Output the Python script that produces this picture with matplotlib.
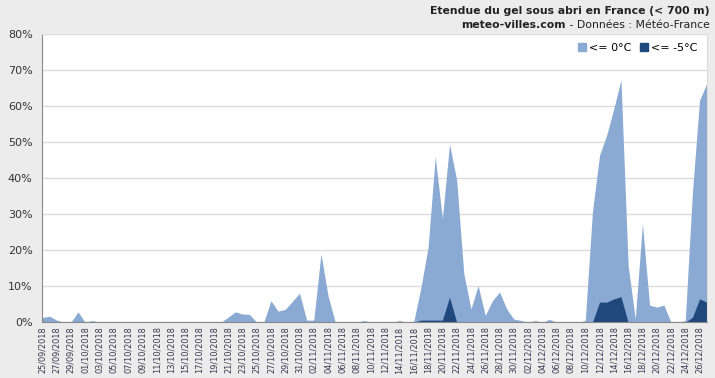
import matplotlib
matplotlib.use("Agg")
import matplotlib.pyplot as plt
import pandas as pd
from matplotlib.patches import Patch
from matplotlib.ticker import MultipleLocator, FuncFormatter

# jours du 25/09/2018 au 27/12/2018
jours = pd.date_range("2018-09-25", "2018-12-27", freq="D")
labels_jours = [d.strftime("%d/%m/%Y") for d in jours]

# % du territoire (< 700 m) avec gel sous abri <= 0°C
gel_0 = [1.3, 1.7, 0.6, 0, 0, 2.9, 0, 0.5, 0, 0,
         0, 0, 0, 0, 0, 0, 0, 0, 0, 0,
         0, 0, 0, 0, 0, 0, 1.4, 2.9, 2.3, 2.2,
         0, 0, 6.0, 3.1, 3.6, 5.8, 8.1, 0.6, 0.6, 19.0,
         7.3, 0, 0, 0, 0, 0.5, 0, 0, 0, 0,
         0.5, 0, 0.3, 9.7, 20.9, 46.0, 28.8, 49.5, 39.5, 13.5,
         3.7, 10.2, 1.9, 6.0, 8.4, 3.7, 0.9, 0.5, 0, 0.5,
         0, 0.8, 0, 0, 0, 0, 0.5, 30.6, 46.4, 52.0,
         59.4, 67.3, 15.8, 0.9, 27.4, 4.8, 4.2, 4.8, 0, 0,
         0.5, 36.0, 61.7, 66.3]

# % avec gel <= -5°C
gel_5 = [0] * 53 + [0.6, 0.6, 0.6, 0.6, 7.0] + [0] * 20 + \
        [5.6, 5.6, 6.5, 7.1] + [0] * 9 + [1.4, 6.5, 5.6]

x = list(range(len(jours)))

fig = plt.figure(figsize=(7.15, 3.78), dpi=100, facecolor="#ececec")
ax = fig.add_axes([0.0592, 0.1474, 0.9292, 0.7619])
ax.set_facecolor("white")

ax.fill_between(x, 0, gel_0, color="#8aaad4", lw=0)
ax.fill_between(x, 0, gel_5, color="#1f497d", lw=0)

ax.set_xlim(0, len(jours) - 1)
ax.set_ylim(0, 80)
ax.yaxis.set_major_locator(MultipleLocator(10))
ax.yaxis.set_major_formatter(FuncFormatter(lambda v, p: "%d%%" % v))
ax.yaxis.grid(True, color="#dcdcdc", lw=1)
ax.set_axisbelow(True)
ax.tick_params(axis="y", length=0, labelsize=8, labelcolor="#333333", pad=7)

ax.set_xticks(x[::2])
ax.set_xticklabels(labels_jours[::2], rotation=90, fontsize=5.9, color="#3a3550")
ax.tick_params(axis="x", length=0, pad=3)

for s in ["top", "right"]:
    ax.spines[s].set_color("#dcdcdc")
ax.spines["left"].set_color("#888888")
ax.spines["bottom"].set_color("#888888")

leg = ax.legend(handles=[Patch(color="#8aaad4", label="<= 0°C"),
                         Patch(color="#1f497d", label="<= -5°C")],
                loc="upper right", ncol=2, frameon=False, fontsize=8,
                handlelength=0.7, handleheight=0.7, handletextpad=0.3,
                columnspacing=0.8, borderaxespad=0.4)

# titre en haut à droite
fig.text(0.993, 0.972, "Etendue du gel sous abri en France (< 700 m)",
         ha="right", va="center", fontsize=7.8, fontweight="bold", color="#222222")
t2 = fig.text(0.993, 0.935, " - Données : Météo-France",
              ha="right", va="center", fontsize=7.8, color="#222222")
fig.canvas.draw()
bb = t2.get_window_extent(renderer=fig.canvas.get_renderer())
fig.text(bb.x0 / fig.bbox.width, 0.935, "meteo-villes.com",
         ha="right", va="center", fontsize=7.8, fontweight="bold", color="#222222")

fig.savefig("out.png", dpi=100, facecolor=fig.get_facecolor())
